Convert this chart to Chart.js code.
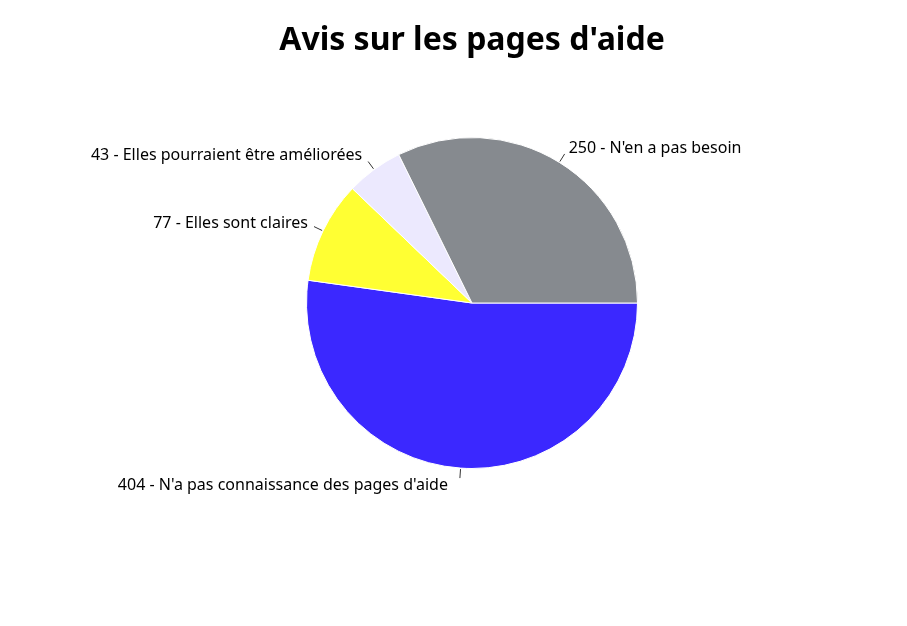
<!DOCTYPE html>
<html lang="fr">
<head>
<meta charset="utf-8">
<title>Avis sur les pages d'aide</title>
<script src="https://cdn.jsdelivr.net/npm/chart.js@4/dist/chart.umd.min.js"></script>
<style>
  html, body { margin: 0; padding: 0; background: #fff; }
  #chart { display: block; }
</style>
</head>
<body>
<canvas id="chart" width="907" height="626"></canvas>
<script>
// Slices listed clockwise starting from 3 o'clock
const labels = [
  "N'a pas connaissance des pages d'aide",
  "Elles sont claires",
  "Elles pourraient être améliorées",
  "N'en a pas besoin"
];
const values = [404, 77, 43, 250];
const colors = ["#3b28ff", "#ffff33", "#ece9fe", "#868a8f"];

// Outside labels with short leader ticks
const outsideLabels = {
  id: "outsideLabels",
  afterDatasetsDraw(chart) {
    const ctx = chart.ctx;
    const arcs = chart.getDatasetMeta(0).data;
    ctx.save();
    ctx.font = "16px 'Noto Sans', sans-serif";
    ctx.fillStyle = "#000";
    ctx.strokeStyle = "#333";
    ctx.lineWidth = 1;
    ctx.textBaseline = "middle";
    arcs.forEach((arc, i) => {
      const p = arc.getProps(["x", "y", "startAngle", "endAngle", "outerRadius"], true);
      const mid = (p.startAngle + p.endAngle) / 2;
      const c = Math.cos(mid), s = Math.sin(mid);
      const r1 = p.outerRadius + 1, r2 = p.outerRadius + 10;
      const ex = p.x + c * r2, ey = p.y + s * r2;
      ctx.beginPath();
      ctx.moveTo(p.x + c * r1, p.y + s * r1);
      ctx.lineTo(ex, ey);
      ctx.stroke();
      ctx.textAlign = c >= 0 ? "left" : "right";
      const dx = c >= 0 ? 4 : -(6 + 6 * Math.max(0, s));
      ctx.fillText(values[i] + " - " + labels[i], ex + dx, ey + s * 7);
    });
    ctx.restore();
  }
};

new Chart(document.getElementById("chart"), {
  type: "pie",
  data: {
    labels,
    datasets: [{
      data: values,
      backgroundColor: colors,
      borderColor: "#fff",
      borderWidth: 1
    }]
  },
  options: {
    responsive: false,
    animation: false,
    rotation: 90,
    layout: { padding: { left: 37, right: 0, top: 0, bottom: 157 } },
    plugins: {
      legend: { display: false },
      tooltip: { enabled: false },
      title: {
        display: true,
        text: "Avis sur les pages d'aide",
        color: "#000",
        font: { family: "'Noto Sans', sans-serif", size: 32, weight: "bold", lineHeight: 1.2 },
        padding: { top: 22, bottom: 76.6 }
      }
    }
  },
  plugins: [outsideLabels]
});
</script>
</body>
</html>
